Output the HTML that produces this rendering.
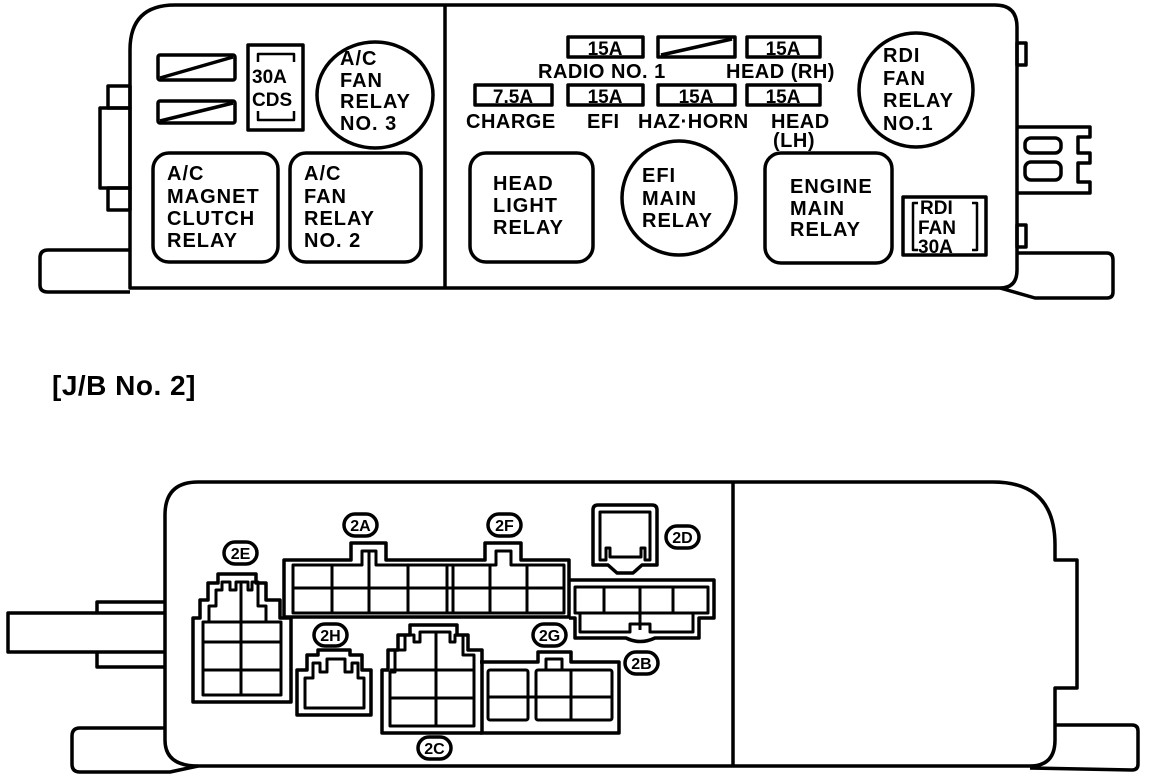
<!DOCTYPE html>
<html><head><meta charset="utf-8"><style>
html,body{margin:0;padding:0;background:#fff;}
svg{display:block;}
text{font-family:"Liberation Sans",sans-serif;font-weight:bold;fill:#000;}
</style></head><body>
<svg width="1152" height="780" viewBox="0 0 1152 780" xmlns="http://www.w3.org/2000/svg">
<g fill="none" stroke="#000" stroke-width="3.5" stroke-linejoin="round">
<path d="M130,288 L130,50 Q130,5 175,5 L995,5 Q1017,5 1017,27 L1017,270 Q1017,288 1000,288 Z"/>
<line x1="445" y1="6" x2="445" y2="288"/>
<path d="M130,250 L48,250 Q40,250 40,258 L40,285 Q40,292 48,292 L130,292"/>
<rect x="100" y="108" width="30" height="80"/>
<rect x="108" y="86" width="22" height="22"/>
<rect x="108" y="188" width="22" height="22"/>
<path d="M1017,253 L1107,253 Q1113,253 1113,260 L1113,292 Q1113,298 1107,298 L1035,298 L1000,288"/>
<path d="M1017,127 L1090,127 L1090,137 L1078,137 L1078,153 L1090,153 L1090,163 L1078,163 L1078,182 L1090,182 L1090,193 L1017,193"/>
<rect x="1025" y="138" width="36" height="15" rx="6"/>
<rect x="1025" y="162" width="36" height="18" rx="6"/>
<rect x="1017" y="43" width="9" height="22"/>
<rect x="1017" y="225" width="9" height="22"/>
<rect x="158" y="55" width="77" height="25" rx="2"/>
<line x1="160" y1="78" x2="233" y2="57"/>
<rect x="158" y="101" width="77" height="22" rx="2"/>
<line x1="160" y1="121" x2="233" y2="103"/>
<rect x="248" y="45" width="55" height="85"/>
<path d="M258,62 L258,54 L294,54 L294,62 M258,111 L258,120 L294,120 L294,111" stroke-width="2.5"/>
<ellipse cx="375" cy="95" rx="58" ry="53"/>
<rect x="153" y="153" width="125" height="109" rx="16"/>
<rect x="290" y="153" width="131" height="109" rx="16"/>
<rect x="568" y="37" width="75" height="20"/>
<rect x="658" y="37" width="77" height="20"/>
<line x1="661" y1="55" x2="732" y2="39"/>
<rect x="747" y="37" width="73" height="20"/>
<rect x="475" y="85" width="77" height="20"/>
<rect x="568" y="85" width="75" height="20"/>
<rect x="658" y="85" width="77" height="20"/>
<rect x="747" y="85" width="73" height="20"/>
<ellipse cx="916" cy="90" rx="57" ry="57"/>
<rect x="470" y="153" width="123" height="109" rx="16"/>
<ellipse cx="679" cy="198" rx="57" ry="57"/>
<rect x="765" y="153" width="127" height="110" rx="16"/>
<rect x="903" y="197" width="83" height="58"/>
<path d="M918,203 L913,203 L913,250 L918,250 M972,203 L977,203 L977,250 L972,250" stroke-width="2.5"/>

<path d="M165,730 L165,515 Q165,482 198,482 L993,482 Q1055,482 1055,545 L1055,560 L1077,560 L1077,688 L1055,688 L1055,740 Q1055,766 1030,766 L198,766 Q165,766 165,740 Z"/>
<line x1="733" y1="482" x2="733" y2="766"/>
<path d="M165,613 L8,613 L8,652 L165,652"/>
<path d="M165,602 L97,602 L97,613 M97,652 L97,667 L165,667"/>
<path d="M165,728 L80,728 Q72,728 72,736 L72,764 Q72,772 80,772 L170,772 L198,766"/>
<path d="M1055,725 L1132,725 Q1138,725 1138,731 L1138,764 Q1138,770 1132,770 L1030,768"/>

<path d="M284,617 L284,560 L351,560 L351,543 L386,543 L386,560 L485,560 L485,543 L521,543 L521,560 L569,560 L569,617 Z"/>
<path d="M293,613 L293,565 L362,565 L362,551 L376,551 L376,565 L496,565 L496,551 L511,551 L511,565 L564,565 L564,613 Z" stroke-width="3"/>
<line x1="293" y1="588" x2="564" y2="588" stroke-width="3"/>
<path d="M332,565 V613 M369,551 V613 M408,565 V613 M447,565 V613 M453,565 V613 M490,565 V613 M527,565 V613" stroke-width="3"/>
<path d="M569,580 L714,580 L714,618 L699,618 L699,638 L655,638 Q640,645 626,638 L575,638 L575,618 L569,618"/>
<path d="M575,587 L708,587 L708,613 L575,613 Z" stroke-width="3"/>
<path d="M604,587 V613 M640,587 V630 M673,587 V613 M580,613 L580,632 L630,632 L630,624 L650,624 L650,632 L693,632 L693,613" stroke-width="3"/>
<path d="M593,510 Q593,505 598,505 L652,505 Q657,505 657,510 L657,565 L642,565 L633,573 L617,573 L608,565 L593,565 Z"/>
<path d="M600,512 L650,512 L650,560 L645,560 L645,548 L641,548 L641,557 L610,557 L610,548 L606,548 L606,560 L600,560 Z" stroke-width="3"/>
<path d="M193,702 V618 H200 V600 H208 V583 H218 V574 H256 V583 H266 V600 H280 V618 H291 V702 Z"/>
<path d="M203,695 V622 H209 V606 H216 V590 H222 V582 H230 V590 H236 V582 H248 V590 H252 V582 H258 V606 H266 V622 H281 V695 Z" stroke-width="3"/>
<path d="M241,582 V695 M203,622 H281 M203,642 H281 M203,670 H281" stroke-width="3"/>
<path d="M297,715 L297,670 L307,670 L307,655 L318,655 L318,650 L350,650 L350,655 L362,655 L362,670 L371,670 L371,715 Z"/>
<path d="M305,708 L305,678 L313,678 L313,663 L320,663 L320,672 L327,672 L327,659 L345,659 L345,672 L352,672 L352,663 L358,663 L358,678 L364,678 L364,708 Z" stroke-width="3"/>
<path d="M382,733 L382,670 L388,670 L388,650 L398,650 L398,635 L410,635 L410,625 L457,625 L457,635 L468,635 L468,650 L482,650 L482,733 Z"/>
<path d="M390,726 L390,672 L395,672 L395,650 L405,650 L405,635 L414,635 L414,642 L420,642 L420,632 L450,632 L450,642 L455,642 L455,635 L463,635 L463,655 L474,655 L474,726 Z" stroke-width="3"/>
<path d="M436,632 V726 M390,670 H474 M390,698 H474" stroke-width="3"/>
<path d="M480,662 L538,662 L538,652 L571,652 L571,662 L619,662 L619,733 L480,733"/>
<rect x="488" y="670" width="40" height="50" rx="2" stroke-width="3"/>
<rect x="536" y="670" width="76" height="50" rx="2" stroke-width="3"/>
<rect x="546" y="659" width="16" height="11" stroke-width="3"/>
<path d="M571,670 V720 M488,697 H612" stroke-width="3"/>
<rect x="344" y="514" width="33" height="22" rx="11"/>
<rect x="488" y="514" width="33" height="22" rx="11"/>
<rect x="666" y="526" width="33" height="22" rx="11"/>
<rect x="224" y="542" width="33" height="22" rx="11"/>
<rect x="314" y="624" width="33" height="22" rx="11"/>
<rect x="533" y="624" width="33" height="22" rx="11"/>
<rect x="625" y="652" width="33" height="22" rx="11"/>
<rect x="418" y="737" width="33" height="22" rx="11"/>
</g>
<g font-size="16" text-anchor="middle">
<text x="360.5" y="531">2A</text><text x="504.5" y="531">2F</text><text x="682.5" y="543">2D</text>
<text x="240.5" y="559">2E</text><text x="330.5" y="641">2H</text><text x="549.5" y="641">2G</text>
<text x="641.5" y="669">2B</text><text x="434.5" y="754">2C</text>
</g>
<g font-size="20" letter-spacing="1">
<text x="167" y="180">A/C</text><text x="167" y="203">MAGNET</text><text x="167" y="225">CLUTCH</text><text x="167" y="247">RELAY</text>
<text x="304" y="180">A/C</text><text x="304" y="203">FAN</text><text x="304" y="225">RELAY</text><text x="304" y="247">NO. 2</text>
<text x="340" y="65">A/C</text><text x="340" y="87">FAN</text><text x="340" y="108">RELAY</text><text x="340" y="130">NO. 3</text>
<text x="883" y="62">RDI</text><text x="883" y="85">FAN</text><text x="883" y="107">RELAY</text><text x="883" y="130">NO.1</text>
<text x="493" y="190">HEAD</text><text x="493" y="212">LIGHT</text><text x="493" y="234">RELAY</text>
<text x="642" y="182">EFI</text><text x="642" y="205">MAIN</text><text x="642" y="227">RELAY</text>
<text x="790" y="193">ENGINE</text><text x="790" y="215">MAIN</text><text x="790" y="236">RELAY</text>
</g>
<g font-size="19">
<text x="920" y="214">RDI</text><text x="918" y="234">FAN</text><text x="918" y="253">30A</text>
<text x="252" y="83">30A</text><text x="252" y="106">CDS</text>
</g>
<g font-size="19" text-anchor="middle">
<text x="605" y="55">15A</text><text x="783" y="55">15A</text>
<text x="513" y="103">7.5A</text><text x="605" y="103">15A</text><text x="696" y="103">15A</text><text x="783" y="103">15A</text>
</g>
<g font-size="20" letter-spacing="0.5">
<text x="538" y="78">RADIO NO. 1</text><text x="726" y="78">HEAD (RH)</text>
<text x="466" y="128">CHARGE</text><text x="587" y="128">EFI</text><text x="638" y="128">HAZ·HORN</text>
<text x="771" y="128">HEAD</text><text x="773" y="147">(LH)</text>
</g>
<text x="52" y="395" font-size="28" letter-spacing="0.5">[J/B No. 2]</text>
</svg>
</body></html>
